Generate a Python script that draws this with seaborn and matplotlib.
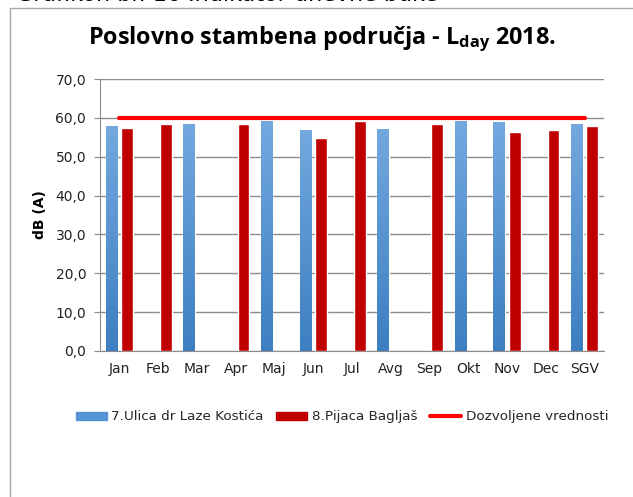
import numpy as np
import pandas as pd
import matplotlib.pyplot as plt
import matplotlib.lines as mlines
import matplotlib.patches as mpatches
from matplotlib.colors import LinearSegmentedColormap
import seaborn as sns

months = ['Jan', 'Feb', 'Mar', 'Apr', 'Maj', 'Jun', 'Jul', 'Avg', 'Sep', 'Okt', 'Nov', 'Dec', 'SGV']
ulica = [57.9, np.nan, 58.4, np.nan, 59.2, 56.8, np.nan, 57.2, np.nan, 59.2, 58.9, np.nan, 58.4]
pijaca = [57.3, 58.5, np.nan, 58.5, np.nan, 54.9, 59.2, np.nan, 58.5, np.nan, 56.4, 57.0, 57.8]
limit = [60] * len(months)
series = ['7.Ulica dr Laze Kostića', '8.Pijaca Bagljaš']
limit_name = 'Dozvoljene vrednosti'

df = pd.DataFrame({'month': months * 2,
                   'value': ulica + pijaca,
                   'site': [series[0]] * len(months) + [series[1]] * len(months)})

sns.set_style('white')
plt.rcParams['font.family'] = ['DejaVu Sans']
plt.rcParams['mathtext.default'] = 'regular'

fig = plt.figure(figsize=(6.33, 4.97), dpi=100)
ax = fig.add_axes([0.158, 0.294, 0.796, 0.547])

blue = '#4a8bcc'
red = '#c00000'
sns.barplot(data=df, x='month', y='value', hue='site', order=months, hue_order=series,
            palette=[blue, red], saturation=1, gap=0.25, width=0.8, ax=ax, legend=False, zorder=3)

# gradient on the blue bars (lighter at the top)
grad = LinearSegmentedColormap.from_list('g', ['#3d7fc1', '#72a8de'])
blue_rgb = np.array(plt.matplotlib.colors.to_rgb(blue))
for p in ax.patches:
    h = p.get_height()
    if h > 0 and np.abs(np.array(p.get_facecolor()[:3]) - blue_rgb).max() < 0.02:
        x0, y0 = p.get_x(), p.get_y()
        im = ax.imshow(np.linspace(0, 1, 64).reshape(-1, 1), cmap=grad, origin='lower', aspect='auto',
                       extent=(x0, x0 + p.get_width(), y0, y0 + h), zorder=3.5)
        im.set_clip_path(p)

ax.plot(range(len(months)), limit, color='#ff0000', lw=3, solid_capstyle='round', zorder=5)

ax.set_xlim(-0.5, len(months) - 0.5)
ax.set_ylim(0, 70)
ax.set_yticks(range(0, 71, 10))
ax.set_yticklabels([f'{v:.1f}'.replace('.', ',') for v in range(0, 71, 10)], fontsize=10, color='#222222')
ax.set_xticklabels(months, fontsize=10, color='#222222')
ax.yaxis.grid(True, color='#8c8c8c', lw=1)
ax.set_axisbelow(True)
ax.tick_params(axis='y', length=4, color='#8c8c8c', pad=6, left=True)
ax.tick_params(axis='x', length=0, pad=8)
for s in ['top', 'right']:
    ax.spines[s].set_visible(False)
for s in ['left', 'bottom']:
    ax.spines[s].set_color('#8c8c8c')
ax.set_xlabel('')
ax.set_ylabel('dB (A)', fontsize=10, fontweight='bold', labelpad=6, color='black')

fig.text(0.509, 0.921, r'Poslovno stambena područja - L$_{day}$ 2018.', color='black',
         ha='center', va='center', fontsize=16.8, fontweight='bold', family='Open Sans')
# caption of the page above the chart, only its lower edge is in view
fig.text(0.025, 0.998, 'Grafikon br. 16 Indikator dnevne buke', ha='left', va='baseline', fontsize=16,
         color='black')

# outer frame
fig.add_artist(mlines.Line2D([0.016, 0.016], [0, 0.984], color='#a6a6a6', lw=1))
fig.add_artist(mlines.Line2D([0.016, 1], [0.984, 0.984], color='#a6a6a6', lw=1))

handles = [mpatches.Patch(color='#5594d4'), mpatches.Patch(color=red),
           mlines.Line2D([], [], color='#ff0000', lw=3, solid_capstyle='round')]
fig.legend(handles, series + [limit_name], loc='center', bbox_to_anchor=(0.54, 0.161), ncol=3,
           frameon=False, fontsize=9.7, handlelength=2.3, handleheight=0.5, handletextpad=0.3,
           columnspacing=1.0)

fig.savefig('out.png', dpi=100)
